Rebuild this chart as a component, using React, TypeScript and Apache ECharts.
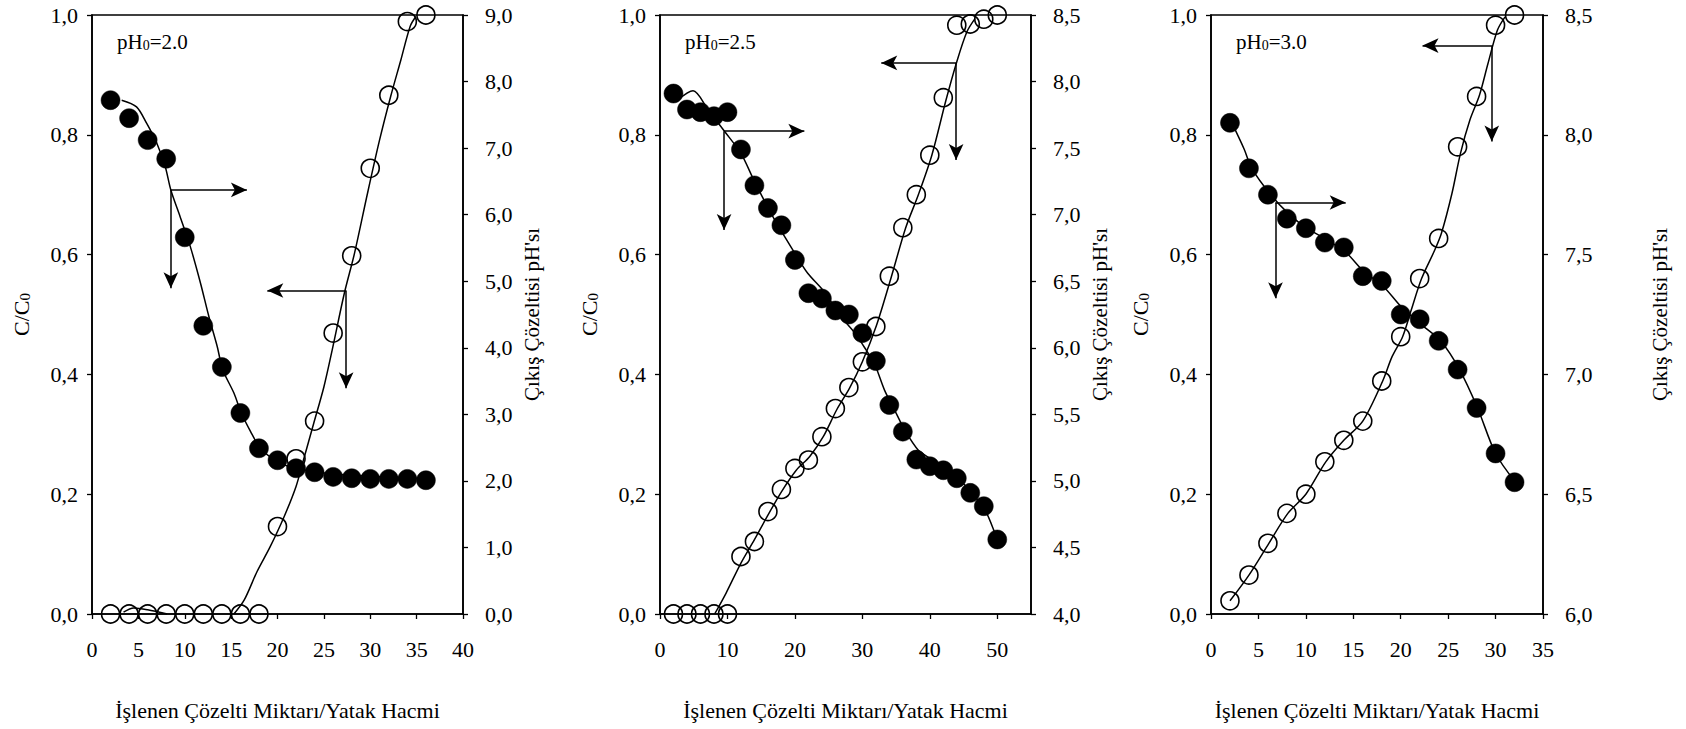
import React, { useEffect, useRef } from "react";
import * as echarts from "echarts";

const FONT = "'Liberation Serif', 'Times New Roman', serif";

// ---------- Panel 1 : pH0 = 2.0 ----------
const p1X = [2, 4, 6, 8, 10, 12, 14, 16, 18, 20, 22, 24, 26, 28, 30, 32, 34, 36];
const p1PH = [7.72, 7.45, 7.12, 6.84, 5.66, 4.33, 3.71, 3.02, 2.49, 2.31, 2.19, 2.13, 2.06, 2.04, 2.03, 2.03, 2.03, 2.01];
const p1CC = [0, 0, 0, 0, 0, 0, 0, 0, 0, 0.146, 0.259, 0.322, 0.469, 0.598, 0.744, 0.866, 0.989, 1.0];
const p1FitPH = [[3.2, 7.72], [4.8, 7.62], [5.9, 7.37], [7.0, 7.07], [7.9, 6.72], [8.5, 6.37], [9.5, 5.97], [10.6, 5.52], [11.7, 4.97], [12.6, 4.47], [13.5, 4.02], [14.1, 3.67], [15.3, 3.32], [16.1, 3.02], [17.1, 2.74], [18.1, 2.5], [19.2, 2.36], [20.7, 2.24], [22.5, 2.17], [26.4, 2.1], [36.2, 2.03]];
const p1FitCCa = [[3.4, 0.003], [4.5, 0.01], [6, 0.007], [8.1, 0]];
const p1FitCC = [[15.3, 0], [16.4, 0.023], [17.8, 0.071], [19.2, 0.112], [20.7, 0.162], [22.0, 0.213], [22.8, 0.257], [23.9, 0.318], [25.0, 0.379], [25.9, 0.441], [27.2, 0.535], [28.3, 0.602], [29.7, 0.702], [31.0, 0.791], [32.2, 0.864], [33.3, 0.925], [34.3, 0.981], [34.9, 0.997]];
const p1Arrows = [[8.5, 0.708, 16.7, 0.708], [8.5, 0.708, 8.5, 0.544], [27.4, 0.54, 18.9, 0.54], [27.4, 0.54, 27.4, 0.377]];

// ---------- Panel 2 : pH0 = 2.5 ----------
const p2X = [2, 4, 6, 8, 10, 12, 14, 16, 18, 20, 22, 24, 26, 28, 30, 32, 34, 36, 38, 40, 42, 44, 46, 48, 50];
const p2PH = [7.91, 7.79, 7.77, 7.74, 7.77, 7.49, 7.22, 7.05, 6.92, 6.66, 6.41, 6.37, 6.28, 6.25, 6.11, 5.9, 5.57, 5.37, 5.16, 5.11, 5.08, 5.02, 4.91, 4.81, 4.56];
const p2CC = [0, 0, 0, 0, 0, 0.096, 0.121, 0.171, 0.208, 0.243, 0.257, 0.296, 0.343, 0.378, 0.421, 0.48, 0.564, 0.645, 0.7, 0.766, 0.862, 0.983, 0.985, 0.993, 1.0];
const p2FitPH = [[2.6, 7.86], [4.9, 7.93], [7.1, 7.79], [9.5, 7.63], [12, 7.46], [14, 7.25], [17, 6.96], [20, 6.71], [21.9, 6.56], [24.2, 6.43], [26.9, 6.23], [28.9, 6.11], [30.6, 5.98], [31.8, 5.88], [33.3, 5.68], [34.8, 5.53], [36.3, 5.38], [38.3, 5.23], [40.3, 5.16], [42.2, 5.09], [44.2, 5.02], [46.2, 4.91], [48.2, 4.78], [50, 4.56]];
const p2FitCC = [[8.1, 0], [9.8, 0.035], [12, 0.085], [14, 0.124], [16, 0.165], [18, 0.204], [20.2, 0.24], [22.2, 0.263], [24.2, 0.296], [26.2, 0.341], [28.1, 0.377], [30, 0.421], [32.1, 0.482], [34.3, 0.563], [36.4, 0.644], [38.3, 0.7], [40.3, 0.766], [42.4, 0.858], [44, 0.922], [45.5, 0.972], [46.7, 0.994]];
const p2Arrows = [[9.5, 0.806, 21.4, 0.806], [9.5, 0.806, 9.5, 0.641], [43.9, 0.92, 32.8, 0.92], [43.9, 0.92, 43.9, 0.758]];

// ---------- Panel 3 : pH0 = 3.0 ----------
const p3X = [2, 4, 6, 8, 10, 12, 14, 16, 18, 20, 22, 24, 26, 28, 30, 32];
const p3PH = [8.05, 7.86, 7.75, 7.65, 7.61, 7.55, 7.53, 7.41, 7.39, 7.25, 7.23, 7.14, 7.02, 6.86, 6.67, 6.55];
const p3CC = [0.022, 0.065, 0.118, 0.168, 0.2, 0.254, 0.29, 0.322, 0.389, 0.463, 0.56, 0.627, 0.78, 0.864, 0.983, 1.0];
const p3FitPH = [[2.2, 8.05], [3.5, 7.94], [4.3, 7.86], [6.3, 7.75], [8.2, 7.67], [10.1, 7.61], [12.3, 7.56], [14.2, 7.51], [16.1, 7.43], [18.1, 7.37], [20.1, 7.28], [22.1, 7.21], [24.2, 7.14], [26.2, 7.02], [28.1, 6.86], [30, 6.67], [32.1, 6.55]];
const p3FitCC = [[2, 0.022], [4, 0.065], [6.1, 0.118], [8.1, 0.168], [10, 0.2], [12.1, 0.254], [14, 0.29], [16, 0.322], [18.1, 0.389], [19.1, 0.43], [20.2, 0.463], [21.1, 0.507], [22.2, 0.56], [23.6, 0.608], [24.3, 0.636], [25.4, 0.702], [26.3, 0.769], [27.3, 0.825], [28.3, 0.866], [29.2, 0.919], [30.2, 0.975], [31, 0.997]];
const p3Arrows = [[6.8, 0.687, 14.2, 0.687], [6.8, 0.687, 6.8, 0.527], [29.6, 0.949, 22.3, 0.949], [29.6, 0.949, 29.6, 0.789]];

const xTitle = "İşlenen Çözelti Miktarı/Yatak Hacmi";
const rightTitle = "Çıkış Çözeltisi pH'sı";

const panels = [
  { label: "2.0", left: 92, width: 371, xMax: 40, xInt: 5, phMin: 0, phMax: 9, phInt: 1, rGap: 58,
    x: p1X, ph: p1PH, cc: p1CC, fitPH: [p1FitPH], fitCC: [p1FitCCa, p1FitCC], arrows: p1Arrows },
  { label: "2.5", left: 660, width: 371, xMax: 55, xInt: 10, phMin: 4, phMax: 8.5, phInt: 0.5, rGap: 58,
    x: p2X, ph: p2PH, cc: p2CC, fitPH: [p2FitPH], fitCC: [p2FitCC], arrows: p2Arrows },
  { label: "3.0", left: 1211, width: 332, xMax: 35, xInt: 5, phMin: 6, phMax: 8.5, phInt: 0.5, rGap: 106,
    x: p3X, ph: p3PH, cc: p3CC, fitPH: [p3FitPH], fitCC: [p3FitCC], arrows: p3Arrows },
];

const TOP = 15;
const HEIGHT = 599;
const comma = (v: number) => v.toFixed(1).replace(".", ",");
const black = "#000";

function buildOption() {
  const grid: any[] = [];
  const xAxis: any[] = [];
  const yAxis: any[] = [];
  const series: any[] = [];
  const graphic: any[] = [];

  const axisLine = { show: true, lineStyle: { color: black, width: 1.6 } };
  const axisTick = { show: true, length: 5, inside: false, lineStyle: { color: black, width: 1.3 } };
  const labelBase = { color: black, fontFamily: FONT, fontSize: 22 };

  panels.forEach((p, i) => {
    grid.push({ left: p.left, top: TOP, width: p.width, height: HEIGHT, show: true, borderColor: black, borderWidth: 1.6, backgroundColor: "transparent" });
    xAxis.push({
      type: "value", gridIndex: i, min: 0, max: p.xMax, interval: p.xInt,
      axisLine, axisTick, splitLine: { show: false },
      axisLabel: { ...labelBase, margin: 24, showMaxLabel: p.xMax % p.xInt === 0 },
      name: xTitle, nameLocation: "middle", nameGap: 85,
      nameTextStyle: { color: black, fontFamily: FONT, fontSize: 22 },
    });
    yAxis.push({
      type: "value", gridIndex: i, min: 0, max: 1, interval: 0.2, position: "left",
      axisLine, axisTick, splitLine: { show: false },
      axisLabel: { ...labelBase, margin: 14, formatter: comma },
      name: "{a|C/C}{b|0}", nameLocation: "middle", nameGap: 60, nameRotate: 90,
      nameTextStyle: {
        color: black, fontFamily: FONT, fontSize: 22,
        rich: {
          a: { fontFamily: FONT, fontSize: 22, color: black, lineHeight: 24, verticalAlign: "bottom" },
          b: { fontFamily: FONT, fontSize: 15, color: black, lineHeight: 24, verticalAlign: "bottom" },
        },
      },
    });
    yAxis.push({
      type: "value", gridIndex: i, min: p.phMin, max: p.phMax, interval: p.phInt, position: "right",
      axisLine, axisTick, splitLine: { show: false },
      axisLabel: { ...labelBase, margin: 22, formatter: comma },
      name: rightTitle, nameLocation: "middle", nameGap: p.rGap, nameRotate: 90,
      nameTextStyle: { color: black, fontFamily: FONT, fontSize: 21 },
    });
    const yL = 2 * i;
    const yR = 2 * i + 1;
    p.fitPH.forEach((f) => {
      series.push({ type: "line", xAxisIndex: i, yAxisIndex: yR, data: f, smooth: 0.3, showSymbol: false, symbol: "none",
        lineStyle: { color: black, width: 1.5 }, silent: true, z: 2 });
    });
    p.fitCC.forEach((f) => {
      series.push({ type: "line", xAxisIndex: i, yAxisIndex: yL, data: f, smooth: 0.3, showSymbol: false, symbol: "none",
        lineStyle: { color: black, width: 1.5 }, silent: true, z: 2 });
    });
    series.push({
      type: "scatter", xAxisIndex: i, yAxisIndex: yR, symbol: "circle", symbolSize: 19,
      data: p.x.map((x, k) => [x, p.ph[k]]),
      itemStyle: { color: black, borderColor: black, borderWidth: 0.5, opacity: 1 }, silent: true, z: 4,
    });
    series.push({
      type: "scatter", xAxisIndex: i, yAxisIndex: yL, symbol: "circle", symbolSize: 18,
      data: p.x.map((x, k) => [x, p.cc[k]]),
      itemStyle: { color: "rgba(255,255,255,0)", borderColor: black, borderWidth: 1.6, opacity: 1 }, silent: true, z: 5,
      markLine: {
        silent: true, animation: false, symbol: ["none", "arrow"], symbolSize: [11, 16],
        label: { show: false },
        lineStyle: { color: black, width: 1.5, type: "solid" },
        emphasis: { disabled: true },
        data: p.arrows.map((a) => [{ coord: [a[0], a[1]] }, { coord: [a[2], a[3]] }]),
      },
    });
    graphic.push({
      type: "text", left: p.left + 25, top: 31, silent: true,
      style: {
        text: "{a|pH}{b|0}{a|=" + p.label + "}",
        fill: black,
        rich: {
          a: { fontFamily: FONT, fontSize: 21, fill: black, color: black, lineHeight: 26, verticalAlign: "bottom" },
          b: { fontFamily: FONT, fontSize: 14, fill: black, color: black, lineHeight: 24, verticalAlign: "bottom" },
        },
      },
    });
  });

  return { animation: false, backgroundColor: "#fff", grid, xAxis, yAxis, series, graphic };
}

export default function App() {
  const ref = useRef<HTMLDivElement>(null);
  useEffect(() => {
    if (!ref.current) return;
    const chart = echarts.init(ref.current, undefined, { renderer: "svg" });
    chart.setOption(buildOption() as any);
    return () => chart.dispose();
  }, []);
  return <div ref={ref} style={{ position: "absolute", left: 0, top: 0, width: 1686, height: 729, background: "#fff" }} />;
}
